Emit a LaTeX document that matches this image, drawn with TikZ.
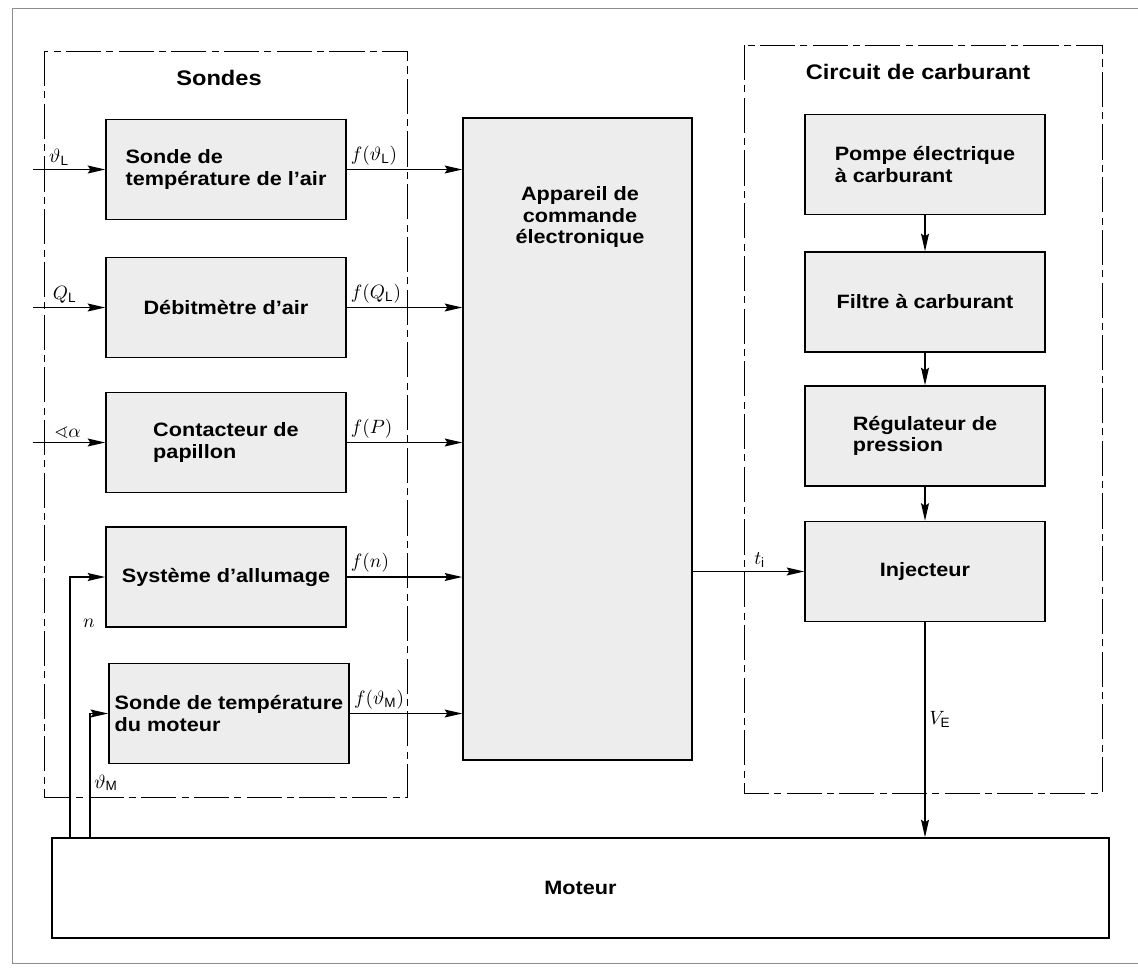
\documentclass[tikz,border=0pt]{standalone}
\usepackage{amsmath,amssymb}
\usepackage{fontspec}
\setmainfont{Liberation Sans}
\newfontfamily\boxfont[FakeStretch=1.12]{Liberation Sans}
\usetikzlibrary{arrows.meta,positioning,calc}

\begin{document}
\begin{tikzpicture}[
		x=0.02cm, y=-0.02cm,
		>={Stealth[length=10pt,width=4.5pt,inset=1.5pt]},
		line width=0.85pt,
		box/.style={draw, fill=black!7, font=\boxfont\bfseries\fontsize{11}{12}\selectfont, align=left, minimum width=4.8cm, minimum height=2cm},
		group/.style={draw, thin, dash pattern=on 20pt off 3pt on 4pt off 3pt},
		title/.style={font=\boxfont\bfseries\fontsize{12}{14}\selectfont},
		lab/.style={font=\fontsize{11}{13}\selectfont, inner sep=2pt}
		]
		
		\useasboundingbox (0,0) rectangle (1138,970);
		
		% --------------------------------------------------
		% page frame
		% --------------------------------------------------
		\draw[black!45, thin] (1138,8) -| (12,963) -- (1138,963);
		
		% --------------------------------------------------
		% Sondes
		% --------------------------------------------------
		\draw[group] (44,51) rectangle (407,797);
		\node[title] (sondes) at (219,78) {Sondes};
		
		\node[box] (tair) at (226,169.5) {Sonde de\\température de l’air};
		\node[box] (flow) at (226,307.5) {Débitmètre d’air};
		\node[box] (throt) at (226,442.5) {Contacteur de\\papillon};
		\node[box] (ign) at (226,577) {Système d’allumage};
		\node[box] (etemp) at (229,713.5) {Sonde de température\\du moteur};
		
		% --------------------------------------------------
		% control unit
		% --------------------------------------------------
		\node[draw, fill=black!7, minimum width=4.58cm, minimum height=12.84cm] (ecu) at (577.5,439) {};
		\node[font=\boxfont\bfseries\fontsize{11}{12}\selectfont, align=center] (ecutxt) at (580,217) {Appareil de\\commande\\électronique};
		
		% --------------------------------------------------
		% Circuit de carburant
		% --------------------------------------------------
		\draw[group] (744,45) rectangle (1102,793);
		\node[title] (circ) at (918,72) {Circuit de carburant};
		
		\node[box] (pump) at (925,164.5) {Pompe électrique\\à carburant};
		\node[box] (filt) at (925,302) {Filtre à carburant};
		\node[box] (preg) at (925,436) {Régulateur de\\pression};
		\node[box] (inj) at (925,571.5) {Injecteur};
		
		\foreach \a/\b in {pump/filt, filt/preg, preg/inj}
		{
			\draw[->] (\a) -- (\b);
		}
		
		% --------------------------------------------------
		% Moteur
		% --------------------------------------------------
		\node[box, fill=white, minimum width=21.14cm, align=center] (moteur) at (580.5,888) {Moteur};
		
		% --------------------------------------------------
		% signals
		% --------------------------------------------------
		\coordinate (in) at (33,0);
		\coordinate (nx) at (70,0);
		\coordinate (tx) at (90,0);
		
		\draw[->] (in |- tair.west) -- node[lab, pos=0.36, above] {$\vartheta_\mathrm{L}$} (tair.west);
		\draw[->] (in |- flow.west) -- node[lab, pos=0.44, above] {$Q_\mathrm{L}$} (flow.west);
		\draw[->] (in |- throt.west) -- node[lab, pos=0.48, above] {$\sphericalangle\alpha$} (throt.west);
		
		\draw[->] (nx |- moteur.north) |- node[lab, pos=0.41, right, xshift=5pt] {$n$} (ign.west);
		\draw[->] (tx |- moteur.north) |- node[lab, pos=0.22, right] {$\vartheta_\mathrm{M}$} (etemp.west);
		
		\foreach \s/\t in {tair/{$f(\vartheta_\mathrm{L})$}, flow/{$f(Q_\mathrm{L})$}, throt/{$f(P)$}, ign/{$f(n)$}, etemp/{$f(\vartheta_\mathrm{M})$}}
		{
			\draw[->] (\s.east) -- node[lab, pos=0, above right] {\t} (\s.east -| ecu.west);
		}
		
		\draw[->] (ecu.east |- inj.west) -- node[lab, pos=0.6, above] {$t_\mathrm{i}$} (inj.west);
		\draw[->] (inj.south) -- node[lab, pos=0.45, right] {$V_\mathrm{E}$} (inj.south |- moteur.north);
		
	\end{tikzpicture}
\end{document}
